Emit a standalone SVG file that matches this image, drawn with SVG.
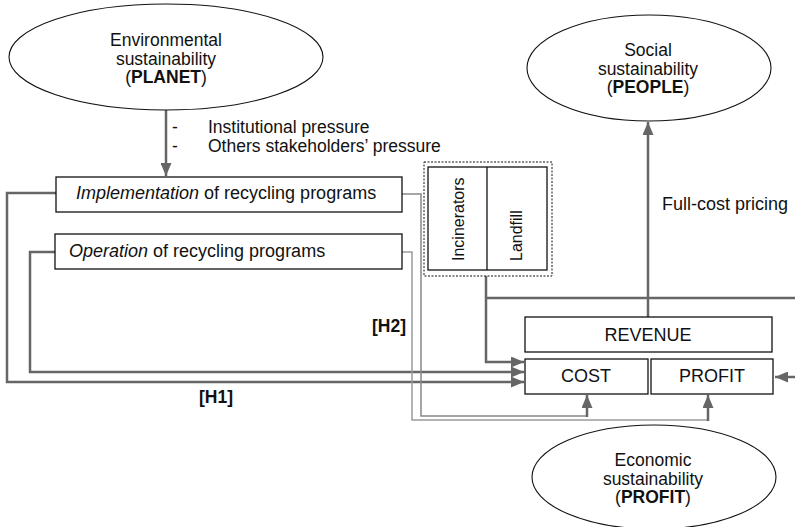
<svg xmlns="http://www.w3.org/2000/svg" width="795" height="527" viewBox="0 0 795 527">
<style>
text{font-family:"Liberation Sans",Arial,sans-serif;font-size:17.5px;fill:#111}
.c{text-anchor:middle}
.b{font-weight:bold}
.lg{font-size:18px}
.box{fill:#fff;stroke:#111;stroke-width:1.3}
.ell{fill:#fff;stroke:#111;stroke-width:1.1}
.thick{fill:none;stroke:#666;stroke-width:2.5}
.thin{fill:none;stroke:#888;stroke-width:1.5}
.thin2{fill:none;stroke:#9a9a9a;stroke-width:1.5}
</style>
<defs>
<marker id="ah" markerUnits="userSpaceOnUse" markerWidth="13" markerHeight="11" refX="13" refY="5.5" orient="auto">
<path d="M0,0 L13,5.5 L0,11 z" fill="#666"/>
</marker>
</defs>
<g id="connectors">
<path class="thick" d="M166,110 V176" marker-end="url(#ah)"/>
<path class="thick" d="M56,193 H7 V382 H524" marker-end="url(#ah)"/>
<path class="thick" d="M55,252 H30 V372 H524" marker-end="url(#ah)"/>
<path class="thick" d="M486,276 V362 H524" marker-end="url(#ah)"/>
<path class="thick" d="M486,298 H795"/>
<path class="thick" d="M648,317 V122" marker-end="url(#ah)"/>
<path class="thick" d="M795,377 H775" marker-end="url(#ah)"/>
<path class="thin" d="M402,194 H421 V416 H587"/>
<path class="thin2" d="M402,252 H412 V420 H708"/>
<path class="thick" d="M587,417 V395" marker-end="url(#ah)"/>
<path class="thick" d="M708,421 V395" marker-end="url(#ah)"/>
</g>
<g id="planet">
<ellipse class="ell" cx="166" cy="57" rx="157" ry="53"/>
<text class="c" x="166" y="46">Environmental</text>
<text class="c" x="166" y="64.5">sustainability</text>
<text class="c" x="166" y="83">(<tspan class="b">PLANET</tspan>)</text>
</g>
<g id="pressure">
<text x="172" y="133">-</text>
<text x="208" y="133">Institutional pressure</text>
<text x="172" y="152">-</text>
<text x="208" y="152">Others stakeholders’ pressure</text>
</g>
<g id="people">
<ellipse class="ell" cx="649" cy="68" rx="122" ry="53"/>
<text class="c" x="648" y="56">Social</text>
<text class="c" x="648" y="74.5">sustainability</text>
<text class="c" x="648" y="93">(<tspan class="b">PEOPLE</tspan>)</text>
</g>
<g id="implementation">
<rect class="box" x="56" y="177" width="346" height="35"/>
<text class="lg" x="76" y="199"><tspan font-style="italic">Implementation</tspan> of recycling programs</text>
</g>
<g id="operation">
<rect class="box" x="55" y="234" width="347" height="35"/>
<text class="lg" x="69" y="257"><tspan font-style="italic">Operation</tspan> of recycling programs</text>
</g>
<g id="alternatives">
<rect x="424" y="162" width="128" height="114" fill="none" stroke="#111" stroke-width="1" stroke-dasharray="2,1.5"/>
<rect class="box" x="428" y="167" width="119" height="103"/>
<line x1="487" y1="167" x2="487" y2="270" stroke="#111" stroke-width="1.3"/>
<text style="font-size:16px" transform="translate(464,261) rotate(-90)">Incinerators</text>
<text style="font-size:16px" transform="translate(522,261) rotate(-90)">Landfill</text>
</g>
<g id="fullcost">
<text class="lg" x="662" y="210">Full-cost pricing</text>
</g>
<g id="revenue">
<rect class="box" x="525" y="317" width="247" height="35"/>
<text class="c lg" x="648" y="341">REVENUE</text>
</g>
<g id="cost">
<rect class="box" x="525" y="359" width="123" height="35"/>
<text class="c lg" x="586" y="382">COST</text>
</g>
<g id="profitbox">
<rect class="box" x="651" y="359" width="122" height="35"/>
<text class="c lg" x="712" y="382">PROFIT</text>
</g>
<g id="labels">
<text class="b" x="372" y="332">[H2]</text>
<text class="b" x="199" y="403">[H1]</text>
</g>
<g id="economic">
<ellipse class="ell" cx="654" cy="477" rx="122" ry="52"/>
<text class="c" x="653" y="466">Economic</text>
<text class="c" x="653" y="484.5">sustainability</text>
<text class="c" x="653" y="503">(<tspan class="b">PROFIT</tspan>)</text>
</g>
</svg>
